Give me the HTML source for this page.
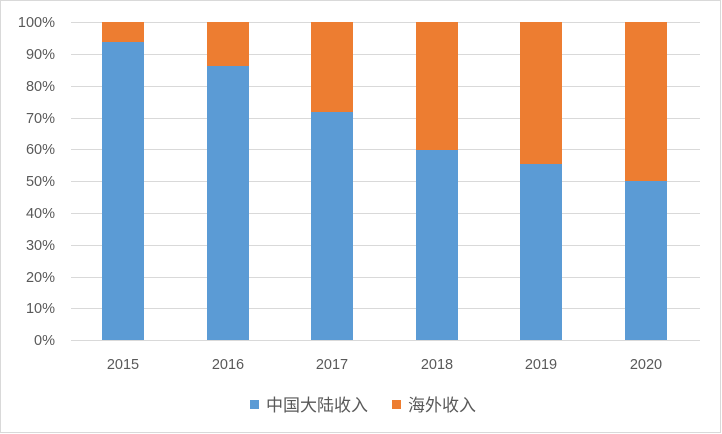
<!DOCTYPE html>
<html><head><meta charset="utf-8"><style>
html,body{margin:0;padding:0;background:#fff;}
svg{display:block;}
text{font-family:"Liberation Sans","Noto Sans CJK SC",sans-serif;fill:#595959;font-size:14.5px;}
</style></head><body>
<svg width="722" height="434" viewBox="0 0 722 434" xmlns="http://www.w3.org/2000/svg">
<rect x="0.5" y="0.5" width="720" height="432" fill="#fff" stroke="#d9d9d9"/>
<g stroke="#d9d9d9" stroke-width="1">
<line x1="71" x2="700" y1="22.5" y2="22.5"/>
<line x1="71" x2="700" y1="54.5" y2="54.5"/>
<line x1="71" x2="700" y1="86.5" y2="86.5"/>
<line x1="71" x2="700" y1="118.5" y2="118.5"/>
<line x1="71" x2="700" y1="149.5" y2="149.5"/>
<line x1="71" x2="700" y1="181.5" y2="181.5"/>
<line x1="71" x2="700" y1="213.5" y2="213.5"/>
<line x1="71" x2="700" y1="245.5" y2="245.5"/>
<line x1="71" x2="700" y1="277.5" y2="277.5"/>
<line x1="71" x2="700" y1="308.5" y2="308.5"/>
<line x1="71" x2="700" y1="340.5" y2="340.5"/>
</g>
<g text-anchor="end">
<text x="55" y="27">100%</text><text x="55" y="59">90%</text><text x="55" y="91">80%</text>
<text x="55" y="123">70%</text><text x="55" y="154">60%</text><text x="55" y="186">50%</text>
<text x="55" y="218">40%</text><text x="55" y="250">30%</text><text x="55" y="282">20%</text>
<text x="55" y="313">10%</text><text x="55" y="345">0%</text>
</g>
<g fill="#ed7d31">
<rect x="102" y="22" width="42" height="20"/>
<rect x="207" y="22" width="42" height="44"/>
<rect x="311" y="22" width="42" height="90"/>
<rect x="416" y="22" width="42" height="128"/>
<rect x="520" y="22" width="42" height="142"/>
<rect x="625" y="22" width="42" height="159"/>
</g>
<g fill="#5b9bd5">
<rect x="102" y="42" width="42" height="298"/>
<rect x="207" y="66" width="42" height="274"/>
<rect x="311" y="112" width="42" height="228"/>
<rect x="416" y="150" width="42" height="190"/>
<rect x="520" y="164" width="42" height="176"/>
<rect x="625" y="181" width="42" height="159"/>
</g>
<g text-anchor="middle">
<text x="123" y="369">2015</text><text x="228" y="369">2016</text><text x="332" y="369">2017</text>
<text x="437" y="369">2018</text><text x="541" y="369">2019</text><text x="646" y="369">2020</text>
</g>
<rect x="250" y="400" width="9" height="9" fill="#5b9bd5"/>
<text x="266" y="411" style="font-size:17px">中国大陆收入</text>
<rect x="392" y="400" width="9" height="9" fill="#ed7d31"/>
<text x="408" y="411" style="font-size:17px">海外收入</text>
</svg>
</body></html>
